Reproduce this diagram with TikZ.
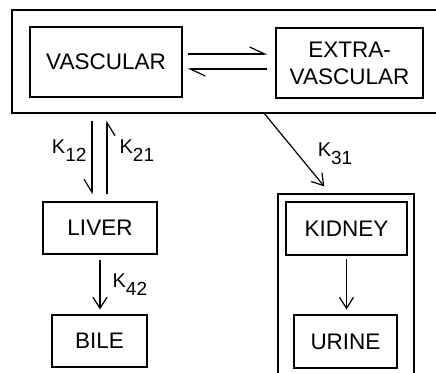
\documentclass[tikz,border=0pt]{standalone}
\usepackage{fontspec}
\setmainfont{Liberation Sans}
\usetikzlibrary{arrows.meta, positioning}
\newcommand{\krate}[1]{K\raisebox{-8pt}{\fontsize{19}{19}\selectfont #1}}

\begin{document}
\begin{tikzpicture}[
        x=1pt, y=-1pt,
        line width=1.2pt,
        block/.style={
            rectangle,
            draw,
            inner sep=0pt,
            text centered,
            align=center,
            font=\fontsize{22.5}{27}\selectfont
        },
        frame/.style={rectangle, draw, inner sep=0pt},
        line/.style={draw, -{Straight Barb[length=11pt, width=14pt]}},
        exchange/.style={draw, -{Straight Barb[harpoon, length=15pt, width=14pt]}},
        exchangeswap/.style={draw, -{Straight Barb[harpoon, swap, length=13pt, width=16pt]}},
        rate/.style={font=\fontsize{20}{20}\selectfont, inner sep=0pt}
    ]
        \useasboundingbox (0,0) rectangle (436,372);
        \clip (0,0) rectangle (436,372);

        % compartments
        \node [frame, minimum width=434pt, minimum height=103pt] (body) at (229,61.5) {};
        \node [frame, minimum width=136pt, minimum height=196pt] (renal) at (346,292) {};

        % nodes
        \node [block, minimum width=152pt, minimum height=70pt] (vascular) at (106,62) {\raisebox{-3pt}{VASCULAR}};
        \node [block, minimum width=147pt, minimum height=70pt] (extra) at (349.5,63) {EXTRA-\\VASCULAR};
        \node [block, minimum width=114pt, minimum height=52pt] (liver) at (100,228) {LIVER};
        \node [block, minimum width=95pt, minimum height=52pt] (bile) at (99.5,341) {BILE};
        \node [block, minimum width=121pt, minimum height=53pt] (kidney) at (346.5,228.5) {KIDNEY};
        \node [block, minimum width=103pt, minimum height=53pt] (urine) at (345.5,341.5) {URINE};

        \coordinate (k12end) at ([xshift=-8pt]liver.north);
        \coordinate (k21start) at ([xshift=7pt]liver.north);

        % paths
        \path [exchange, shorten <=5pt, shorten >=8pt] ([yshift=8pt]vascular.east) -- ([yshift=8pt]vascular.east -| extra.west);
        \path [exchange, shorten <=8pt, shorten >=5pt] ([yshift=-7pt]vascular.east -| extra.west) -- ([yshift=-7pt]vascular.east);

        \path [exchangeswap, shorten <=7pt, shorten >=7pt] (k12end |- body.south) -- node[rate, left=5pt, yshift=7pt] {\krate{12}} (k12end);
        \path [exchangeswap, shorten <=7pt, shorten >=7pt] (k21start) -- node[rate, right=12pt, yshift=7pt] {\krate{21}} (k21start |- body.south);

        \path [line, shorten >=9pt] ([xshift=253pt]body.south west) -- node[rate, right=20pt] {\krate{31}} ([xshift=-16pt]renal.north);

        \path [line, shorten <=5pt, shorten >=5pt] (liver.south) -- node[rate, right=12pt] {\krate{42}} (liver.south |- bile.north);
        \path [line, shorten <=3pt, shorten >=5pt] (kidney.south) -- (kidney.south |- urine.north);

    \end{tikzpicture}
\end{document}
